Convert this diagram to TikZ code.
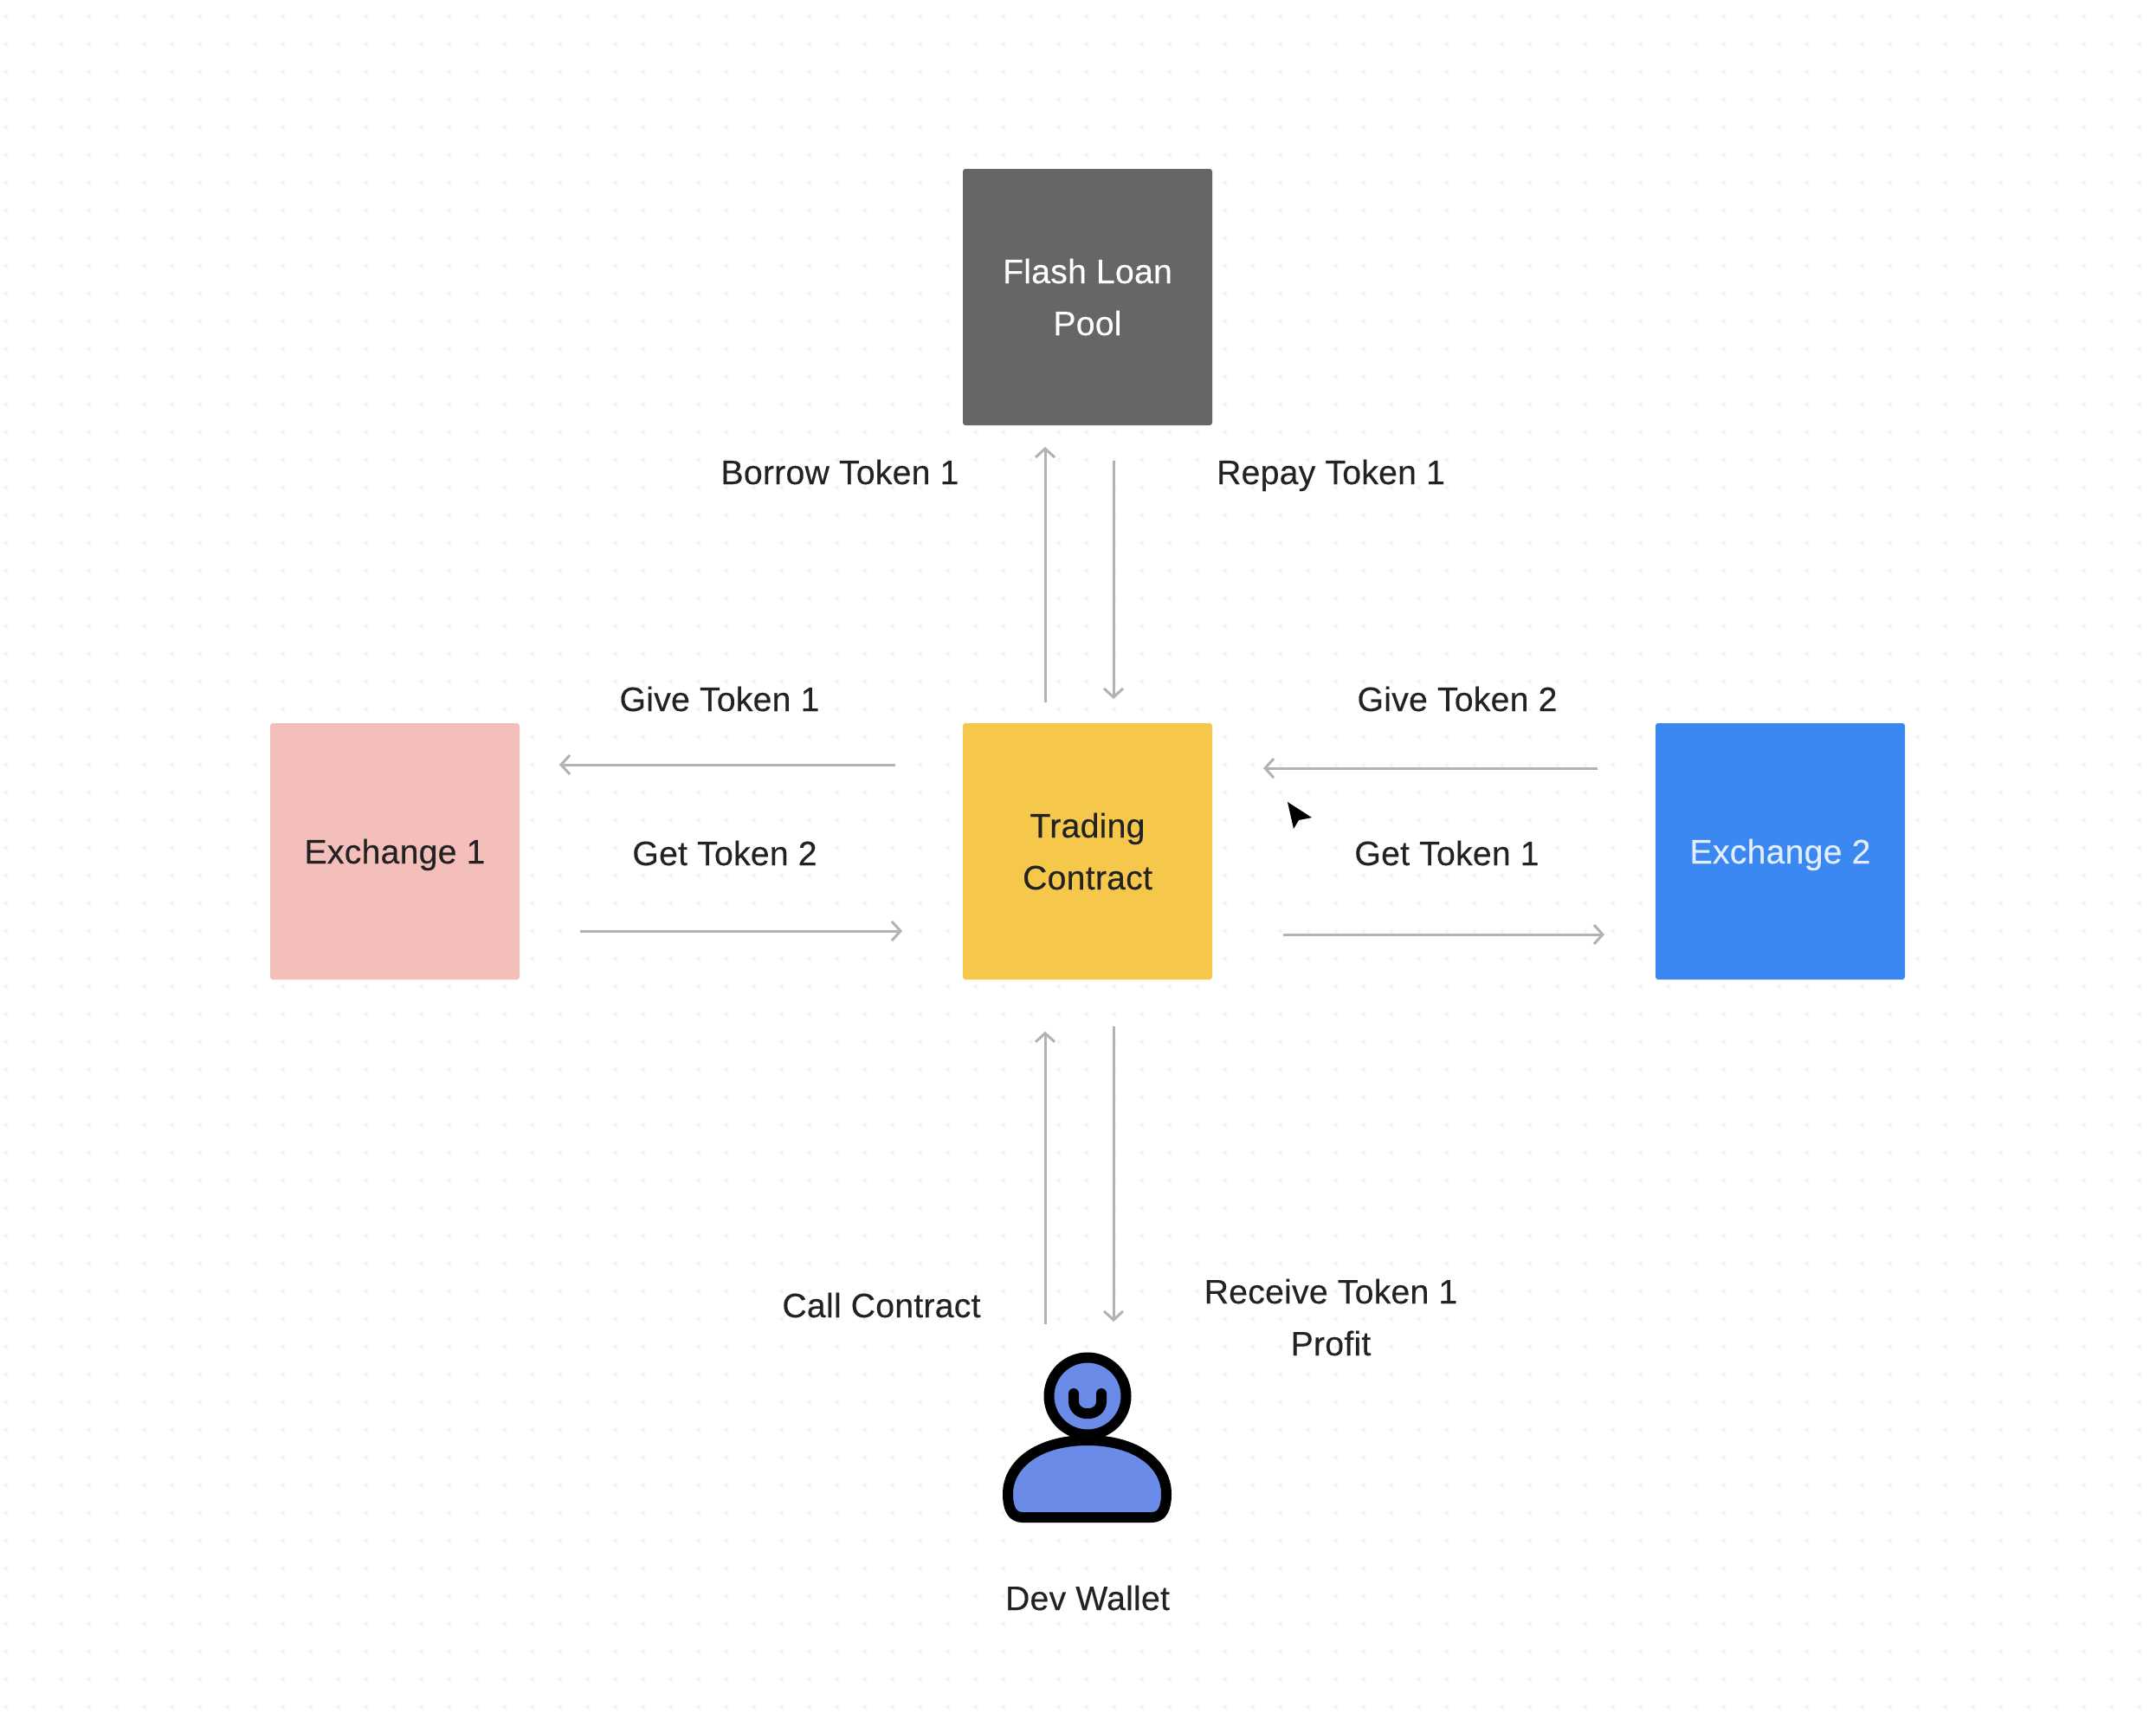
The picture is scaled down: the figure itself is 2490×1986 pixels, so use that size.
\documentclass[tikz,border=0pt]{standalone}
\usepackage{fontspec}
\setmainfont[FakeBold=0.25]{Liberation Sans}
\newfontfamily\labfont[FakeBold=0.25,LetterSpace=0.6]{Liberation Sans}
\usetikzlibrary{arrows.meta}
\definecolor{flashc}{HTML}{666666}
\definecolor{exonec}{HTML}{F4BFBA}
\definecolor{tradec}{HTML}{F5C84C}
\definecolor{extwoc}{HTML}{3B88F2}
\definecolor{arrowc}{HTML}{B2B2B2}
\definecolor{inkc}{HTML}{222222}
\definecolor{dotc}{HTML}{F3F3F3}
\definecolor{personc}{HTML}{6A8BE8}
\newcommand{\tstrut}{\rule[-8pt]{0pt}{30pt}}
\tikzset{
  x=0.5pt,y=-0.5pt,
  block/.style={rectangle,rounded corners=1.5pt,minimum width=144pt,minimum height=148pt,inner sep=0pt,align=center,font=\labfont\fontsize{19.6}{30}\selectfont},
  lab/.style={inner sep=0pt,align=center,text=inkc,font=\labfont\fontsize{19.6}{30}\selectfont},
  flow/.style={draw=arrowc,line width=1.5pt,-{Straight Barb[length=5pt,width=11pt,line width=1.5pt]}},
  ink/.style={draw=black,line width=6pt,line join=round,fill=personc},
}
\begin{document}
\begin{tikzpicture}
\useasboundingbox (0,0) rectangle (2490,1986);
\fill[white] (0,0) rectangle (2490,1986);
\foreach \i in {0,...,77}{\foreach \j in {0,...,61}{
  \fill[dotc] ({7+32*\i},{19+32*\j}) circle[radius=2.2];
}}
\node[block,fill=flashc,text=white] (flash) at (1256,343) {\tstrut Flash Loan\\\tstrut Pool};
\node[block,fill=exonec,text=inkc] (exone) at (456,983) {\tstrut Exchange 1};
\node[block,fill=tradec,text=inkc] (trade) at (1256,983) {\tstrut Trading\\\tstrut Contract};
\node[block,fill=extwoc,text=white!85!extwoc] (extwo) at (2056,983) {\tstrut Exchange 2};

\coordinate (a1) at (1207,811); \coordinate (a2) at (1207,516);
\coordinate (b1) at (1286,532); \coordinate (b2) at (1286,807);
\coordinate (c1) at (1034,883); \coordinate (c2) at (646,883);
\coordinate (d1) at (670,1075); \coordinate (d2) at (1042,1075);
\coordinate (e1) at (1845,887); \coordinate (e2) at (1459,887);
\coordinate (f1) at (1482,1079); \coordinate (f2) at (1853,1079);
\coordinate (g1) at (1207,1529); \coordinate (g2) at (1207,1191);
\coordinate (h1) at (1286,1185); \coordinate (h2) at (1286,1526);
\draw[flow] (a1) -- (a2);
\draw[flow] (b1) -- (b2);
\draw[flow] (c1) -- (c2);
\draw[flow] (d1) -- (d2);
\draw[flow] (e1) -- (e2);
\draw[flow] (f1) -- (f2);
\draw[flow] (g1) -- (g2);
\draw[flow] (h1) -- (h2);

\node[lab] (l1) at (970,545) {\tstrut Borrow Token 1};
\node[lab] (l2) at (1537,545) {\tstrut Repay Token 1};
\node[lab] (l3) at (831,807) {\tstrut Give Token 1};
\node[lab] (l4) at (837,985) {\tstrut Get Token 2};
\node[lab] (l5) at (1683,807) {\tstrut Give Token 2};
\node[lab] (l6) at (1671,985) {\tstrut Get Token 1};
\node[lab] (l7) at (1018,1507) {\tstrut Call Contract};
\node[lab] (l8) at (1537,1521) {\tstrut Receive Token 1\\\tstrut Profit};
\node[lab] (l9) at (1256,1845) {\tstrut Dev Wallet};

% person icon
\draw[ink] (1164,1725) .. controls (1164,1690) and (1200,1663) .. (1256,1663)
  .. controls (1312,1663) and (1347,1690) .. (1347,1725)
  .. controls (1347,1742) and (1342,1752) .. (1330,1752) -- (1181,1752)
  .. controls (1169,1752) and (1164,1742) .. (1164,1725) -- cycle;
\draw[ink] (1256,1612) circle[radius=44.5];
\draw[draw=black,line width=6pt,line cap=round] (1240,1609) -- (1240,1618)
  .. controls (1240,1637) and (1272,1637) .. (1272,1618) -- (1272,1609);

% cursor
\fill[black] (1487,926) -- (1515,944) -- (1500,947) -- (1494,957) -- cycle;
\end{tikzpicture}
\end{document}
